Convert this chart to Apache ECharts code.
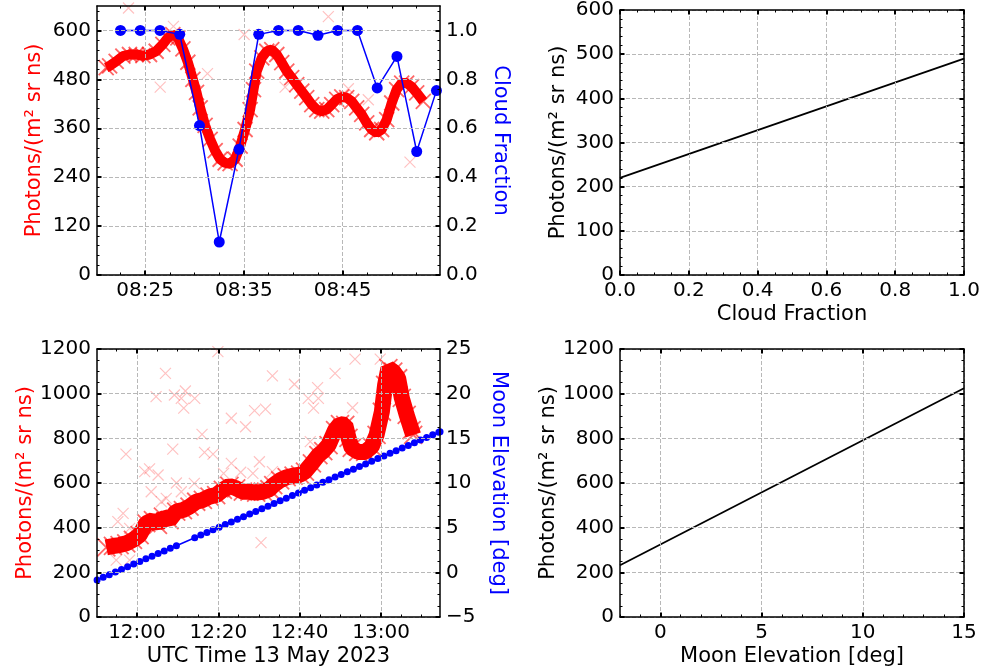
<!DOCTYPE html>
<html>
<head>
<meta charset="utf-8">
<script src="https://cdn.jsdelivr.net/npm/echarts@6/dist/echarts.min.js"></script>
<style>
  html, body { margin: 0; padding: 0; background: #fff; }
  #chart { width: 986px; height: 672px; }
</style>
</head>
<body>
<div id="chart"></div>
<script>
// ---------------- Morning pass (time in minutes after 08:00 UTC) ----------------
const cloudTimes = [22.5, 24.5, 26.5, 28.5, 30.5, 32.5, 34.5, 36.5, 38.5, 40.5, 42.5, 44.5, 46.5, 48.5, 50.5, 52.5, 54.5];
const cloudFraction = [1.0, 1.0, 1.0, 0.984, 0.611, 0.135, 0.514, 0.984, 1.0, 1.0, 0.98, 1.0, 1.0, 0.765, 0.894, 0.505, 0.754];

// dense photon record, [minute, photons]
const morningPhotons = [
  [21.05,509],[21.40,513],[22.06,524],[22.74,537],[23.41,541],[24.09,541],[24.77,538],[25.44,541],
  [26.11,549],[26.79,566],[27.30,582],[27.80,590],[28.31,582],[28.82,555],[29.32,522],[29.83,480],
  [30.20,448],[30.57,410],[31.07,367],[31.58,333],[32.09,305],[32.59,284],[33.10,275],[33.60,273],
  [34.11,284],[34.62,316],[35.12,357],[35.63,406],[35.97,455],[36.30,500],[36.81,533],[37.31,549],
  [37.82,553],[38.33,541],[38.83,521],[39.34,500],[39.84,484],[40.35,467],[40.86,451],[41.36,435],
  [41.87,418],[42.38,406],[42.88,402],[43.39,406],[43.89,418],[44.40,431],[44.91,437],[45.41,435],
  [45.92,426],[46.42,410],[46.93,394],[47.44,373],[47.94,357],[48.45,349],[48.95,357],[49.46,381],
  [49.97,422],[50.47,455],[50.98,471],[51.48,471],[51.99,462],[52.50,447],[53.17,426]
];
const morningOutliers = [
  [23.31,655],[27.86,610],[26.52,461],[31.31,494],[35.02,590],[43.55,634],
  [39.17,461],[45.58,457],[47.60,430],[51.82,277]
];

// ---------------- Evening pass (time in minutes after 12:00 UTC) ----------------
const eveningPhotons = [
  [-7.54,312],[-5.90,318],[-4.27,322],[-2.63,330],[-0.98,345],[0.65,367],[2.28,420],[3.93,434],
  [5.16,412],[6.39,449],[8.00,434],[9.65,472],[11.30,479],[12.92,494],[14.56,516],[16.21,524],
  [17.83,539],[19.47,546],[21.12,569],[22.74,587],[24.39,576],[26.03,561],[27.65,561],[29.30,557],
  [30.94,561],[32.56,572],[33.50,590],[35.20,612],[36.80,626],[38.50,633],[40.10,638],[41.30,651],
  [43.00,688],[44.60,725],[45.80,743],[47.10,770],[48.70,837],[49.90,864],[51.20,860],[52.00,802],
  [52.80,757],[54.40,739],[56.10,739],[57.70,763],[58.90,815],[60.20,919],[61.00,1039],[61.80,1114],
  [63.00,1099],[64.20,1069],[65.10,981],[66.30,905],[67.50,837],[67.90,815]
];
const eveningOutliers = [
  [19.9,1188],[7.0,1091],[4.7,987],[9.2,994],[11.9,1012],[10.9,979],[14.2,979],[11.5,935],
  [33.3,1080],[23.2,890],[28.9,924],[31.6,931],[26.7,852],[16.0,818],[-2.7,729],[8.8,752],
  [16.6,737],[18.7,729],[23.2,688],[30.1,695],[1.9,651],[3.1,663],[21.3,643],[25.5,648],
  [28.5,643],[9.7,600],[14.1,598],[38.7,1042],[44.4,1027],[48.7,1091],[53.6,1155],[59.8,1155],
  [42.1,979],[44.6,979],[43.4,935],[53.0,937],[42.6,785],[33.3,651],[5.2,636],[3.5,561],
  [10.9,561],[6.0,516],[7.2,531],[-3.4,464],[-4.7,427],[-1.8,397],[-5.1,255],[-1.8,255],[30.5,333]
];
const moonTimes = [
  -9.8,-8.3,-6.8,-5.3,-3.8,-2.3,-0.8,0.7,2.2,3.7,5.2,6.7,8.2,9.7,
  14.2,15.7,17.2,18.7,20.2,21.7,23.2,24.7,26.2,27.7,29.2,30.7,32.2,33.7,35.2,36.7,38.2,39.7,
  41.2,42.7,44.2,45.7,47.2,48.7,50.2,51.7,53.2,54.7,56.2,57.7,59.2,60.7,62.2,63.7,65.2,66.7,
  68.2,69.7,71.2,72.7,74.2,74.5
];
const moonElevation = [
  -0.86,-0.56,-0.27,0.03,0.33,0.62,0.92,1.21,1.51,1.80,2.10,2.39,2.69,2.98,
  3.87,4.17,4.46,4.76,5.05,5.35,5.64,5.94,6.23,6.53,6.82,7.12,7.41,7.71,8.01,8.30,8.60,8.89,
  9.19,9.48,9.78,10.07,10.37,10.66,10.96,11.25,11.55,11.84,12.14,12.44,12.73,13.03,13.32,13.62,13.91,14.21,
  14.50,14.80,15.09,15.39,15.68,15.74
];

// ---------------- Linear fits ----------------
const cloudFitLine = [[0, 220], [1, 490]];
const moonFitLine = [[-2, 232], [15, 1024]];

// ---------------- Tick positions ----------------
const morningTimeTicks = [25, 35, 45];
const eveningTimeTicks = [0, 20, 40, 60];
const morningPhotonTicks = [0, 120, 240, 360, 480, 600];
const cloudTicks = [0, 0.2, 0.4, 0.6, 0.8, 1.0];
const eveningPhotonTicks = [0, 200, 400, 600, 800, 1000, 1200];
const elevationTicks = [-5, 0, 5, 10, 15, 20, 25];
const fitPhotonTicks = [0, 100, 200, 300, 400, 500, 600];
const fitElevationTicks = [0, 5, 10, 15];

const FONT = 'DejaVu Sans';
const RED = '#ff0000';
const BLUE = '#0000ff';
const CROSS = 'path://M0,0L10,10M0,10L10,0';

function stepTicks(step, lo, hi, exclude) {
  const out = [];
  const k0 = Math.ceil(lo / step - 1e-9), k1 = Math.floor(hi / step + 1e-9);
  for (let k = k0; k <= k1; k++) {
    const v = +(k * step).toFixed(6);
    if (!exclude.some(m => Math.abs(m - v) < 1e-9)) out.push(v);
  }
  return out;
}
const pad = n => (n < 10 ? '0' : '') + n;
const clock = (baseHour, m) => {
  const tot = baseHour * 60 + Math.round(m);
  return pad(Math.floor(tot / 60)) + ':' + pad(tot % 60);
};
const minusFmt = v => (v < 0 ? '\u2212' + (-v) : String(v));

const xAxes = [], yAxes = [];

// Adds a framed axis side: major ticks (+labels, grid) and a companion axis for minor ticks.
function side(list, o) {
  const idx = list.length;
  list.push({
    type: 'value', gridIndex: o.grid, position: o.position, min: o.min, max: o.max,
    axisLine: { show: true, onZero: false, lineStyle: { color: '#000', width: 1.5 } },
    axisTick: { show: true, inside: true, length: 4.5, customValues: o.majors, lineStyle: { color: '#000', width: 2 } },
    axisLabel: {
      show: !!o.labels, customValues: o.majors, formatter: o.formatter || (v => String(v)), margin: 6,
      color: '#000', fontSize: 20, fontFamily: FONT
    },
    splitLine: { show: !!o.split, lineStyle: { color: '#b8b8b8', type: [4, 2], width: 1 } },
    name: o.name || '', nameLocation: 'middle', nameGap: o.nameGap || 0, nameRotate: o.nameRotate,
    nameTextStyle: { fontSize: 21, fontFamily: FONT, color: o.nameColor || '#000' },
    z: 5
  });
  list.push({
    type: 'value', gridIndex: o.grid, position: o.position, min: o.min, max: o.max,
    axisLine: { show: false, onZero: false },
    axisTick: { show: true, inside: true, length: 2.5, customValues: stepTicks(o.minorStep, o.min, o.max, o.majors), lineStyle: { color: '#000', width: 1 } },
    axisLabel: { show: false }, splitLine: { show: false }, z: 5
  });
  return idx;
}

// grid 0: photons & cloud fraction vs time
const g0x = side(xAxes, { grid: 0, position: 'bottom', min: 20.12, max: 54.86, majors: morningTimeTicks, minorStep: 2.5, labels: true, split: true, formatter: v => clock(8, v) });
side(xAxes, { grid: 0, position: 'top', min: 20.12, max: 54.86, majors: morningTimeTicks, minorStep: 2.5 });
const g0yl = side(yAxes, { grid: 0, position: 'left', min: 0, max: 660, majors: morningPhotonTicks, minorStep: 24, labels: true, split: true,
  name: 'Photons/(m\u00b2 sr ns)', nameColor: RED, nameGap: 52 });
const g0yr = side(yAxes, { grid: 0, position: 'right', min: 0, max: 1.1, majors: cloudTicks, minorStep: 0.04, labels: true,
  formatter: v => v.toFixed(1), name: 'Cloud Fraction', nameColor: BLUE, nameGap: 50, nameRotate: -90 });

// grid 1: photons vs cloud fraction fit
const g1x = side(xAxes, { grid: 1, position: 'bottom', min: 0, max: 1, majors: cloudTicks, minorStep: 0.05, labels: true, split: true,
  formatter: v => v.toFixed(1), name: 'Cloud Fraction', nameGap: 29 });
side(xAxes, { grid: 1, position: 'top', min: 0, max: 1, majors: cloudTicks, minorStep: 0.05 });
const g1y = side(yAxes, { grid: 1, position: 'left', min: 0, max: 600, majors: fitPhotonTicks, minorStep: 20, labels: true, split: true,
  name: 'Photons/(m\u00b2 sr ns)', nameGap: 51 });
side(yAxes, { grid: 1, position: 'right', min: 0, max: 600, majors: fitPhotonTicks, minorStep: 20 });

// grid 2: photons & moon elevation vs time
const g2x = side(xAxes, { grid: 2, position: 'bottom', min: -9.82, max: 74.49, majors: eveningTimeTicks, minorStep: 5, labels: true, split: true,
  formatter: v => clock(12, v), name: 'UTC Time 13 May 2023', nameGap: 29 });
side(xAxes, { grid: 2, position: 'top', min: -9.82, max: 74.49, majors: eveningTimeTicks, minorStep: 5 });
const g2yl = side(yAxes, { grid: 2, position: 'left', min: 0, max: 1200, majors: eveningPhotonTicks, minorStep: 50, labels: true, split: true,
  name: 'Photons/(m\u00b2 sr ns)', nameColor: RED, nameGap: 60 });
const g2yr = side(yAxes, { grid: 2, position: 'right', min: -5, max: 25, majors: elevationTicks, minorStep: 1.25, labels: true,
  formatter: minusFmt, name: 'Moon Elevation [deg]', nameColor: BLUE, nameGap: 48, nameRotate: -90 });

// grid 3: photons vs moon elevation fit
const g3x = side(xAxes, { grid: 3, position: 'bottom', min: -2, max: 15, majors: fitElevationTicks, minorStep: 1, labels: true, split: true,
  name: 'Moon Elevation [deg]', nameGap: 29 });
side(xAxes, { grid: 3, position: 'top', min: -2, max: 15, majors: fitElevationTicks, minorStep: 1 });
const g3y = side(yAxes, { grid: 3, position: 'left', min: 0, max: 1200, majors: eveningPhotonTicks, minorStep: 50, labels: true, split: true,
  name: 'Photons/(m\u00b2 sr ns)', nameGap: 61 });
side(yAxes, { grid: 3, position: 'right', min: 0, max: 1200, majors: eveningPhotonTicks, minorStep: 50 });

function photonBand(data, xi, yi, width, size) {
  return {
    type: 'line', data, xAxisIndex: xi, yAxisIndex: yi, z: 2,
    lineStyle: { color: RED, width },
    symbol: CROSS, symbolSize: size, showSymbol: true, showAllSymbol: true,
    itemStyle: { color: RED, borderColor: 'rgba(255,0,0,0.6)', borderWidth: 1.8 }
  };
}
function photonScatter(data, xi, yi) {
  return {
    type: 'scatter', data, xAxisIndex: xi, yAxisIndex: yi, z: 1,
    symbol: CROSS, symbolSize: 11,
    itemStyle: { color: 'rgba(255,0,0,0.3)', borderColor: 'rgba(255,0,0,0.3)', borderWidth: 1.2 }
  };
}

const option = {
  animation: false,
  backgroundColor: '#fff',
  grid: [
    { left: 97, top: 6, width: 343, height: 269 },
    { left: 620, top: 6, width: 344, height: 269 },
    { left: 97, top: 349, width: 343, height: 268 },
    { left: 620, top: 349, width: 344, height: 268 }
  ],
  xAxis: xAxes,
  yAxis: yAxes,
  series: [
    photonScatter(morningOutliers, g0x, g0yl),
    photonBand(morningPhotons, g0x, g0yl, 10, 15),
    {
      type: 'line', xAxisIndex: g0x, yAxisIndex: g0yr, z: 4,
      data: cloudTimes.map((t, i) => [t, cloudFraction[i]]),
      lineStyle: { color: BLUE, width: 1.5 },
      symbol: 'circle', symbolSize: 11, itemStyle: { color: BLUE }
    },
    {
      type: 'line', xAxisIndex: g1x, yAxisIndex: g1y, data: cloudFitLine,
      lineStyle: { color: '#000', width: 1.8 }, symbol: 'none'
    },
    photonScatter(eveningOutliers, g2x, g2yl),
    photonBand(eveningPhotons, g2x, g2yl, 16, 18),
    {
      type: 'line', xAxisIndex: g2x, yAxisIndex: g2yr, z: 4,
      data: moonTimes.map((t, i) => [t, moonElevation[i]]),
      lineStyle: { color: BLUE, width: 1.5 },
      symbol: 'circle', symbolSize: 7, showAllSymbol: true, itemStyle: { color: BLUE }
    },
    {
      type: 'line', xAxisIndex: g3x, yAxisIndex: g3y, data: moonFitLine,
      lineStyle: { color: '#000', width: 1.8 }, symbol: 'none'
    }
  ]
};

const chart = echarts.init(document.getElementById('chart'));
chart.setOption(option);
</script>
</body>
</html>
